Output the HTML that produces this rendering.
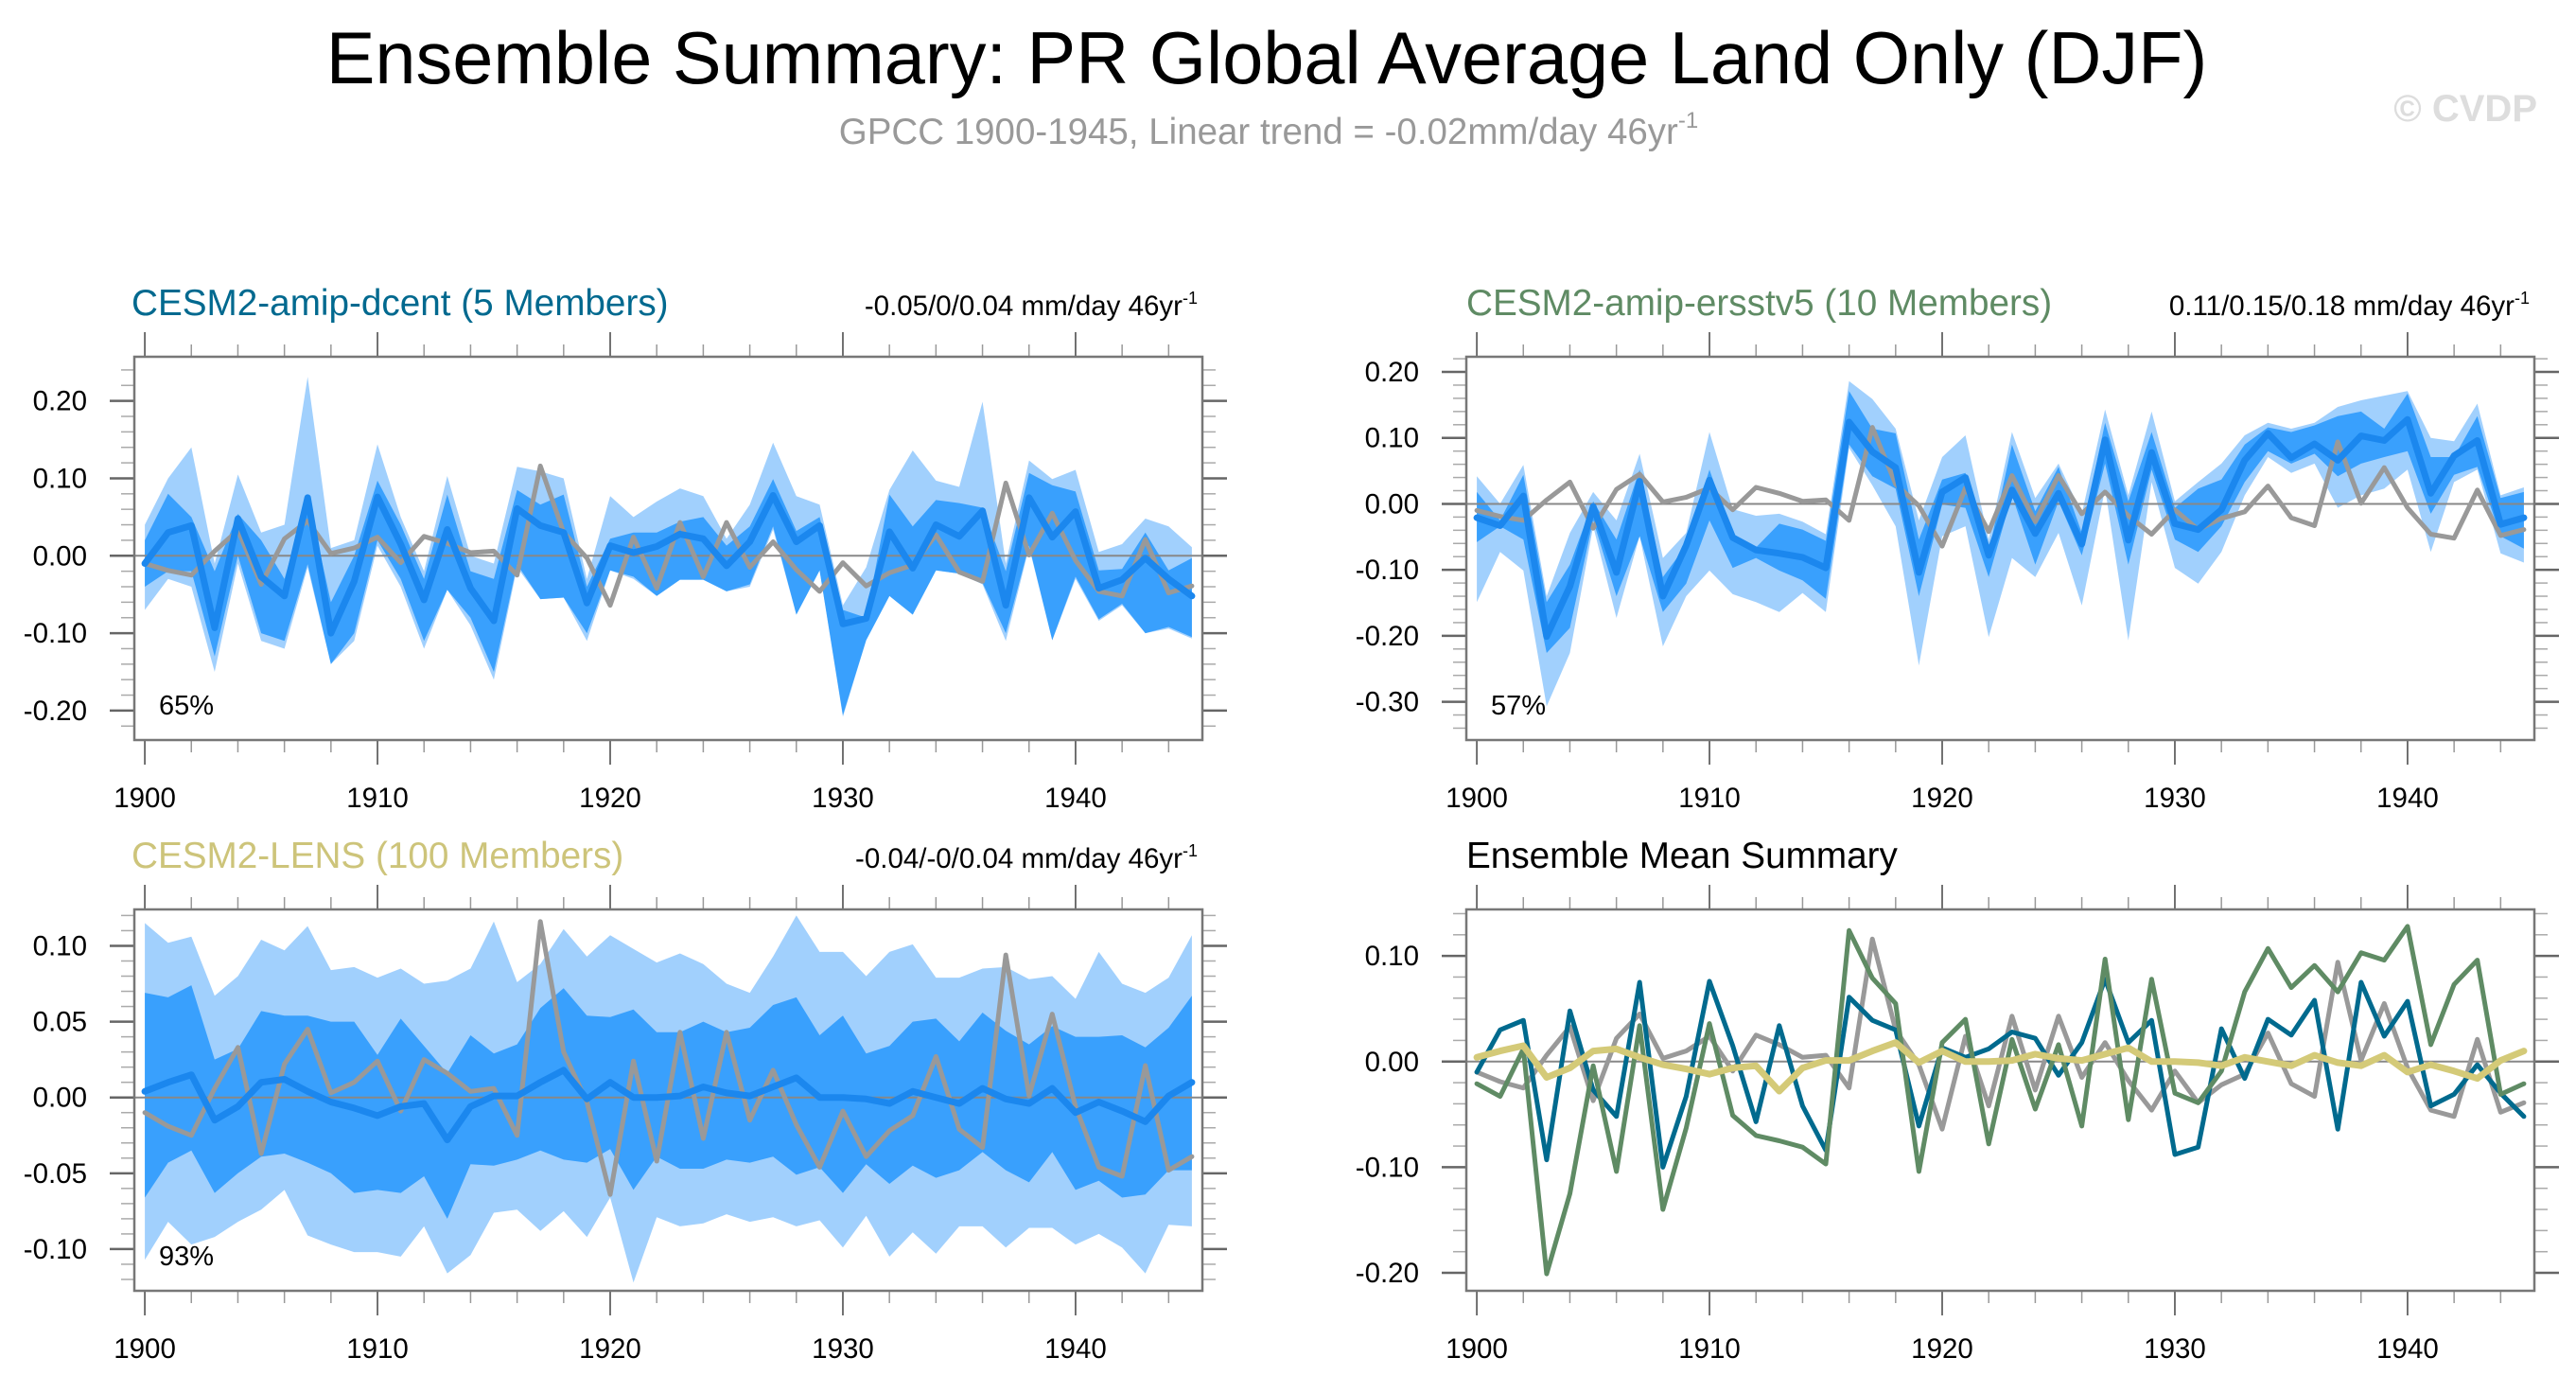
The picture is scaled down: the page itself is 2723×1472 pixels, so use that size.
<!DOCTYPE html>
<html><head><meta charset="utf-8">
<style>
html,body{margin:0;padding:0;background:#fff;}
svg{display:block;font-family:"Liberation Sans",sans-serif;}
</style></head>
<body>
<svg id="chart" width="2723" height="1472" viewBox="0 0 2723 1472" xmlns="http://www.w3.org/2000/svg">
<rect x="0" y="0" width="2723" height="1472" fill="#fff"/>
<text x="1339" y="88" font-size="77.5" text-anchor="middle" fill="#000">Ensemble Summary: PR Global Average Land Only (DJF)</text>
<text x="1341" y="152" font-size="38.5" text-anchor="middle" fill="#999">GPCC 1900-1945, Linear trend = -0.02mm/day 46yr<tspan font-size="24" dy="-17">-1</tspan></text>
<text x="2682" y="128" font-size="40" font-weight="bold" text-anchor="end" fill="#ddd">© CVDP</text>

<text x="139" y="333" font-size="38.7" fill="#00698f">CESM2-amip-dcent (5 Members)</text>
<text x="1266" y="333" font-size="29.5" text-anchor="end" fill="#000">-0.05/0/0.04 mm/day 46yr<tspan font-size="18" dy="-12">-1</tspan></text>
<text x="1550" y="333" font-size="38.7" fill="#5f8b64">CESM2-amip-ersstv5 (10 Members)</text>
<text x="2674" y="333" font-size="29.5" text-anchor="end" fill="#000">0.11/0.15/0.18 mm/day 46yr<tspan font-size="18" dy="-12">-1</tspan></text>
<text x="139" y="917" font-size="38.7" fill="#cdc47a">CESM2-LENS (100 Members)</text>
<text x="1266" y="917" font-size="29.5" text-anchor="end" fill="#000">-0.04/-0/0.04 mm/day 46yr<tspan font-size="18" dy="-12">-1</tspan></text>
<text x="1550" y="917" font-size="38.7" fill="#000">Ensemble Mean Summary</text>
<g id="plots"></g>
</svg>
<script>
const years = [1900,1901,1902,1903,1904,1905,1906,1907,1908,1909,1910,1911,1912,1913,1914,1915,1916,1917,1918,1919,1920,1921,1922,1923,1924,1925,1926,1927,1928,1929,1930,1931,1932,1933,1934,1935,1936,1937,1938,1939,1940,1941,1942,1943,1944,1945];
const xTickYears = [1900,1910,1920,1930,1940];
const obs = [-0.010,-0.019,-0.025,0.006,0.033,-0.037,0.022,0.045,0.003,0.010,0.024,-0.009,0.025,0.016,0.004,0.006,-0.025,0.116,0.030,-0.003,-0.064,0.024,-0.042,0.043,-0.027,0.043,-0.015,0.018,-0.018,-0.046,-0.009,-0.039,-0.022,-0.012,0.027,-0.021,-0.033,0.094,0.001,0.055,-0.006,-0.046,-0.052,0.021,-0.048,-0.039];
const dcentMean = [-0.010,0.030,0.039,-0.093,0.048,-0.027,-0.052,0.075,-0.100,-0.033,0.076,0.015,-0.057,0.034,-0.042,-0.084,0.061,0.039,0.030,-0.061,0.013,0.004,0.012,0.028,0.022,-0.013,0.018,0.078,0.018,0.039,-0.088,-0.081,0.031,-0.016,0.040,0.025,0.058,-0.064,0.075,0.024,0.057,-0.042,-0.031,-0.003,-0.030,-0.052];
const ersstMean = [-0.021,-0.033,0.012,-0.201,-0.125,-0.004,-0.104,0.034,-0.140,-0.063,0.036,-0.051,-0.070,-0.075,-0.081,-0.097,0.124,0.079,0.055,-0.104,0.018,0.040,-0.078,0.021,-0.045,0.016,-0.061,0.097,-0.055,0.078,-0.030,-0.039,-0.009,0.066,0.107,0.070,0.091,0.066,0.103,0.096,0.128,0.016,0.073,0.096,-0.031,-0.021];
const lensMean = [0.004,0.010,0.015,-0.015,-0.006,0.010,0.012,0.004,-0.003,-0.007,-0.012,-0.006,-0.004,-0.028,-0.006,0.001,0.001,0.010,0.018,-0.001,0.010,0.000,0.000,0.001,0.007,0.003,0.001,0.007,0.013,0.000,0.000,-0.001,-0.004,0.004,0.000,-0.004,0.006,-0.001,-0.004,0.006,-0.010,-0.003,-0.009,-0.016,0.001,0.010];

const dcentMax = [0.04,0.10,0.14,-0.01,0.105,0.03,0.04,0.231,0.01,0.02,0.144,0.05,-0.02,0.103,0.00,-0.01,0.115,0.109,0.10,-0.03,0.077,0.05,0.07,0.087,0.077,0.022,0.066,0.146,0.077,0.066,-0.064,-0.015,0.085,0.136,0.097,0.089,0.199,-0.01,0.123,0.099,0.111,0.005,0.015,0.048,0.038,0.011];
const dcentHi = [0.02,0.08,0.05,-0.02,0.054,0.02,-0.03,0.077,-0.06,0.00,0.097,0.04,-0.03,0.079,-0.02,-0.03,0.085,0.066,0.079,-0.04,0.022,0.03,0.03,0.044,0.05,0.013,0.038,0.099,0.032,0.05,-0.07,-0.08,0.079,0.038,0.072,0.068,0.062,-0.02,0.107,0.091,0.083,-0.019,-0.017,0.03,-0.019,-0.003];
const dcentLo = [-0.04,-0.02,-0.02,-0.13,0.00,-0.10,-0.11,-0.011,-0.14,-0.10,0.02,-0.03,-0.11,-0.044,-0.08,-0.15,-0.011,-0.056,-0.054,-0.10,-0.019,-0.027,-0.052,-0.031,-0.031,-0.046,-0.037,0.038,-0.076,-0.019,-0.206,-0.109,-0.052,-0.076,-0.019,-0.023,-0.035,-0.10,0.013,-0.109,-0.027,-0.082,-0.062,-0.10,-0.092,-0.105];
const dcentMin = [-0.07,-0.03,-0.04,-0.15,-0.01,-0.11,-0.12,-0.015,-0.14,-0.11,0.013,-0.04,-0.12,-0.044,-0.09,-0.16,-0.015,-0.056,-0.054,-0.11,-0.019,-0.03,-0.052,-0.031,-0.031,-0.046,-0.04,0.034,-0.076,-0.019,-0.208,-0.109,-0.052,-0.076,-0.019,-0.023,-0.037,-0.11,0.011,-0.109,-0.03,-0.084,-0.064,-0.10,-0.094,-0.107];

const ersstMax = [0.042,0.0,0.059,-0.14,-0.044,0.018,-0.025,0.076,-0.082,-0.044,0.109,-0.008,-0.018,-0.015,-0.027,-0.046,0.186,0.159,0.114,-0.025,0.071,0.104,-0.054,0.109,0.009,0.061,-0.015,0.143,0.013,0.14,0.004,0.033,0.061,0.104,0.123,0.114,0.123,0.147,0.157,0.164,0.171,0.10,0.095,0.152,0.013,0.025];
const ersstHi = [0.018,-0.025,0.044,-0.149,-0.092,0.004,-0.054,0.052,-0.111,-0.063,0.052,-0.049,-0.066,-0.03,-0.039,-0.056,0.171,0.114,0.107,-0.054,0.037,0.047,-0.073,0.09,-0.011,0.056,-0.044,0.123,0.004,0.109,-0.006,0.023,0.037,0.09,0.116,0.109,0.119,0.133,0.14,0.114,0.167,0.071,0.071,0.133,0.009,0.018];
const ersstLo = [-0.058,-0.034,-0.054,-0.226,-0.188,-0.025,-0.14,-0.049,-0.164,-0.121,-0.025,-0.097,-0.082,-0.101,-0.116,-0.144,0.09,0.042,0.023,-0.14,-0.001,-0.006,-0.111,0.013,-0.092,0.004,-0.078,0.061,-0.092,0.052,-0.054,-0.073,-0.034,0.033,0.08,0.061,0.076,0.042,0.061,0.071,0.08,-0.015,0.044,0.056,-0.049,-0.068];
const ersstMin = [-0.149,-0.073,-0.101,-0.307,-0.226,-0.034,-0.173,-0.049,-0.216,-0.14,-0.101,-0.137,-0.149,-0.164,-0.135,-0.164,0.085,0.028,-0.034,-0.245,-0.049,-0.034,-0.202,-0.082,-0.111,-0.044,-0.154,0.023,-0.207,0.033,-0.097,-0.121,-0.073,0.013,0.071,0.047,0.061,-0.006,0.013,0.023,0.052,-0.073,0.033,0.052,-0.075,-0.089];

const lensMax = [0.115,0.102,0.106,0.067,0.080,0.104,0.097,0.113,0.084,0.086,0.079,0.085,0.075,0.077,0.085,0.116,0.076,0.088,0.111,0.093,0.107,0.098,0.089,0.095,0.088,0.075,0.069,0.093,0.120,0.096,0.096,0.080,0.096,0.101,0.079,0.079,0.085,0.086,0.078,0.080,0.065,0.096,0.075,0.069,0.079,0.107];
const lensHi = [0.069,0.066,0.074,0.025,0.032,0.057,0.054,0.054,0.050,0.050,0.028,0.052,0.034,0.016,0.041,0.029,0.035,0.059,0.072,0.054,0.053,0.058,0.043,0.043,0.050,0.043,0.046,0.061,0.066,0.041,0.054,0.029,0.034,0.050,0.052,0.037,0.056,0.044,0.035,0.047,0.040,0.040,0.041,0.033,0.046,0.067];
const lensLo = [-0.066,-0.043,-0.035,-0.063,-0.050,-0.039,-0.037,-0.043,-0.050,-0.063,-0.061,-0.063,-0.052,-0.080,-0.044,-0.045,-0.041,-0.035,-0.041,-0.043,-0.034,-0.061,-0.039,-0.047,-0.047,-0.041,-0.043,-0.039,-0.051,-0.046,-0.063,-0.044,-0.057,-0.045,-0.053,-0.048,-0.036,-0.048,-0.056,-0.036,-0.061,-0.055,-0.066,-0.064,-0.048,-0.048];
const lensMin = [-0.107,-0.082,-0.097,-0.092,-0.082,-0.074,-0.061,-0.091,-0.097,-0.102,-0.102,-0.105,-0.085,-0.116,-0.104,-0.076,-0.074,-0.088,-0.075,-0.092,-0.066,-0.122,-0.079,-0.085,-0.083,-0.077,-0.082,-0.079,-0.085,-0.081,-0.099,-0.078,-0.105,-0.089,-0.103,-0.085,-0.085,-0.099,-0.086,-0.086,-0.097,-0.090,-0.099,-0.116,-0.084,-0.085];

const p1Ticks = [0.2,0.1,0,-0.1,-0.2];
const p1Labels = ["0.20","0.10","0.00","-0.10","-0.20"];
const p2Ticks = [0.2,0.1,0,-0.1,-0.2,-0.3];
const p2Labels = ["0.20","0.10","0.00","-0.10","-0.20","-0.30"];
const p3Ticks = [0.1,0.05,0,-0.05,-0.1];
const p3Labels = ["0.10","0.05","0.00","-0.05","-0.10"];
const p4Ticks = [0.1,0,-0.1,-0.2];
const p4Labels = ["0.10","0.00","-0.10","-0.20"];

const NS = "http://www.w3.org/2000/svg";
const root = document.getElementById('plots');
function mk(tag, attrs, parent){
  const e = document.createElementNS(NS, tag);
  for (const k in attrs) e.setAttribute(k, attrs[k]);
  (parent||root).appendChild(e);
  return e;
}
const X0 = 1899.55, X1 = 1945.45;

function panel(id, box, ymin, ymax, ticks, labels, minorStep, pct){
  const g = mk('g', {});
  
  
  const xs = v => box.l + (v - X0) / (X1 - X0) * (box.r - box.l);
  const ys = v => box.t + (ymax - v) / (ymax - ymin) * (box.b - box.t);
  for (let yr = 1900; yr <= 1945; yr += 2) {
    const major = (yr % 10 === 0);
    const len = major ? 26 : 13;
    const x = xs(yr);
    const t1 = mk('line', {x1:x, x2:x, y1:box.t, y2:box.t - len, stroke: major ? '#444' : '#999', 'stroke-width': 1.5}, g);
    
    
    const t2 = mk('line', {x1:x, x2:x, y1:box.b, y2:box.b + len, stroke: major ? '#444' : '#999', 'stroke-width': 1.5}, g);
    
    
  }
  xTickYears.forEach(yr => {
    const t = mk('text', {x: xs(yr), y: box.b + 71, 'font-size': 29.5, 'text-anchor': 'middle', fill: '#000'}, g);
    t.textContent = String(yr);
    
    
  });
  const start = Math.ceil(ymin / minorStep) * minorStep;
  for (let v = start; v <= ymax + 1e-9; v += minorStep) {
    const y = ys(v);
    const isMajor = ticks.some(tv => Math.abs(tv - v) < 1e-6);
    const len = isMajor ? 26 : 14;
    const a = mk('line', {x1: box.l, x2: box.l - len, y1: y, y2: y, stroke: isMajor ? '#666' : '#aaa', 'stroke-width': isMajor ? 2.5 : 1.5}, g);
    
    
    const b = mk('line', {x1: box.r, x2: box.r + len, y1: y, y2: y, stroke: isMajor ? '#666' : '#aaa', 'stroke-width': isMajor ? 2.5 : 1.5}, g);
    
    
  }
  ticks.forEach((v, i) => {
    const t = mk('text', {x: box.l - 50, y: ys(v) + 10, 'font-size': 29.5, 'text-anchor': 'end', fill: '#000'}, g);
    t.textContent = labels[i];
    
    
  });
  return {g, xs, ys, box, pct};
}

function band(p, lo, hi, color, name){
  let d = '';
  years.forEach((yr, i) => { d += (i ? 'L' : 'M') + p.xs(yr).toFixed(1) + ',' + p.ys(hi[i]).toFixed(1); });
  for (let i = years.length - 1; i >= 0; i--) d += 'L' + p.xs(years[i]).toFixed(1) + ',' + p.ys(lo[i]).toFixed(1);
  const e = mk('path', {d: d + 'Z', fill: color, stroke: 'none'}, p.g);
  
  
}
function line(p, vals, color, w, name){
  const pts = years.map((yr, i) => p.xs(yr).toFixed(1) + ',' + p.ys(vals[i]).toFixed(1)).join(' ');
  const e = mk('polyline', {points: pts, fill: 'none', stroke: color, 'stroke-width': w, 'stroke-linejoin': 'round', 'stroke-linecap': 'round'}, p.g);
  
  
}
function zero(p){
  const e = mk('line', {x1: p.box.l, x2: p.box.r, y1: p.ys(0), y2: p.ys(0), stroke: '#888', 'stroke-width': 2}, p.g);
  
  
}
function frame(p){
  const e = mk('rect', {x: p.box.l, y: p.box.t, width: p.box.r - p.box.l, height: p.box.b - p.box.t, fill: 'none', stroke: '#777', 'stroke-width': 2.5}, p.g);
  
  
  if (p.pct) {
    const t = mk('text', {x: p.box.l + 26, y: p.box.b - 27, 'font-size': 29, fill: '#000'}, p.g);
    t.textContent = p.pct;
    
    
  }
}
const LIGHT = '#a1d0fd', DARK = '#39a0fd', MEAN = '#1b87ee', GRAY = '#999';

const p1 = panel('panel-dcent', {l:142, r:1271, t:377, b:782}, -0.238, 0.257, p1Ticks, p1Labels, 0.02, '65%');
band(p1, dcentMin, dcentMax, LIGHT, 'dcent-range-band');
band(p1, dcentLo, dcentHi, DARK, 'dcent-spread-band');
zero(p1);
line(p1, obs, GRAY, 5, 'obs-line');
line(p1, dcentMean, MEAN, 7, 'dcent-mean-line');
frame(p1);

const p2 = panel('panel-ersstv5', {l:1550, r:2679, t:377, b:782}, -0.358, 0.223, p2Ticks, p2Labels, 0.02, '57%');
band(p2, ersstMin, ersstMax, LIGHT, 'ersst-range-band');
band(p2, ersstLo, ersstHi, DARK, 'ersst-spread-band');
zero(p2);
line(p2, obs, GRAY, 5, 'obs-line');
line(p2, ersstMean, MEAN, 7, 'ersst-mean-line');
frame(p2);

const p3 = panel('panel-lens', {l:142, r:1271, t:961, b:1364}, -0.1275, 0.124, p3Ticks, p3Labels, 0.01, '93%');
band(p3, lensMin, lensMax, LIGHT, 'lens-range-band');
band(p3, lensLo, lensHi, DARK, 'lens-spread-band');
zero(p3);
line(p3, obs, GRAY, 5, 'obs-line');
line(p3, lensMean, MEAN, 7, 'lens-mean-line');
frame(p3);

const p4 = panel('panel-mean-summary', {l:1550, r:2679, t:961, b:1364}, -0.217, 0.144, p4Ticks, p4Labels, 0.02, '');
zero(p4);
line(p4, obs, GRAY, 5, 'obs-line');
line(p4, dcentMean, '#006a8e', 5, 'dcent-mean-line');
line(p4, ersstMean, '#5f8b64', 5, 'ersst-mean-line');
line(p4, lensMean, '#d4ca78', 7, 'lens-mean-line');
frame(p4);
</script>
</body></html>
